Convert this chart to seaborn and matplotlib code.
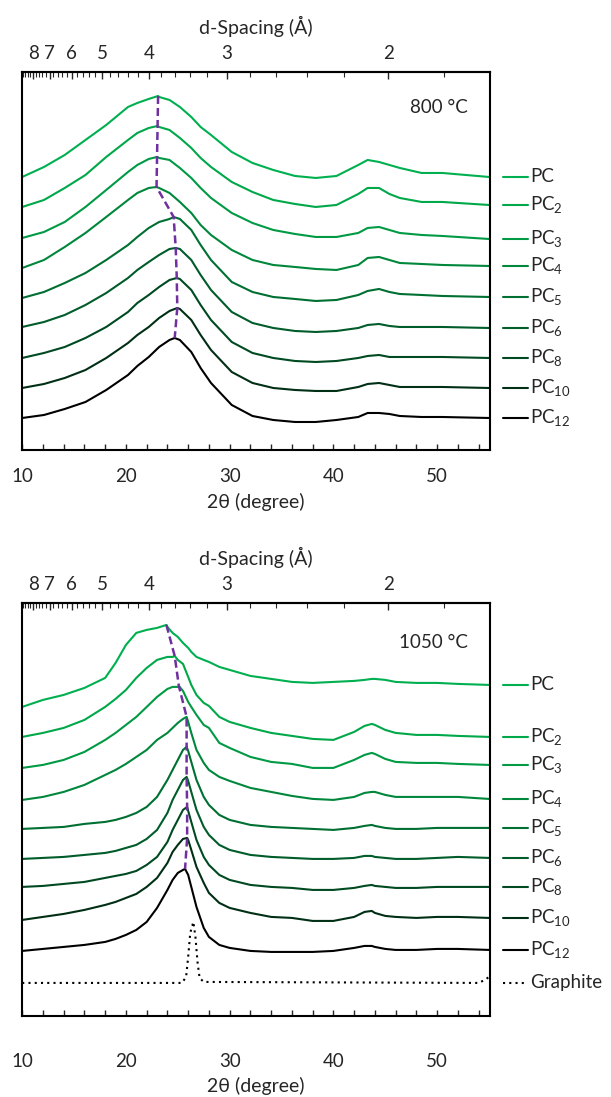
import numpy as np
import pandas as pd
import seaborn as sns
import matplotlib.pyplot as plt
import matplotlib.transforms as mtransforms
from matplotlib.ticker import FixedLocator, MultipleLocator

# XRD patterns of the PC series, stacked (a.u.)
# Cu K-alpha, used only for the d-spacing axis on top
WAVELENGTH = 1.5406

samples = ['PC', 'PC2', 'PC3', 'PC4', 'PC5', 'PC6', 'PC8', 'PC10', 'PC12']
sample_labels = ['PC', 'PC$_2$', 'PC$_3$', 'PC$_4$', 'PC$_5$', 'PC$_6$',
                 'PC$_8$', 'PC$_{10}$', 'PC$_{12}$']
sample_colors = ['#00B050', '#00A84A', '#009A44', '#00873B', '#006F32',
                 '#005C2A', '#004A22', '#002F15', '#000000']

# ---- 800 C ----
two_theta_800 = [10.0, 12.1, 14.1, 16.1, 18.1, 20.2, 21.1, 22.2, 23.2, 24.2,
                 25.2, 26.3, 27.2, 28.2, 30.2, 32.2, 34.2, 36.3, 38.3, 40.3,
                 42.4, 43.3, 44.4, 45.4, 46.4, 48.5, 50.5, 55.0]
pc_800 = [273, 283, 295, 310, 325, 343, 347, 351, 353, 350, 343, 333, 323, 315,
          298, 287, 280, 274, 272, 274, 285, 290, 288, 285, 282, 277, 277, 273]
pc2_800 = [243, 250, 262, 275, 293, 310, 317, 322, 323, 320, 312, 302, 292, 283,
           268, 258, 250, 246, 243, 245, 256, 262, 262, 256, 252, 248, 248, 245]
pc3_800 = [212, 218, 228, 243, 260, 278, 285, 291, 292, 290, 282, 272, 262, 252,
           237, 227, 220, 216, 213, 213, 217, 222, 223, 220, 217, 215, 214, 211]
pc4_800 = [182, 190, 203, 217, 233, 250, 257, 262, 262, 257, 248, 237, 225, 215,
           200, 190, 185, 183, 181, 180, 185, 192, 193, 190, 187, 186, 185, 184]
pc5_800 = [152, 158, 167, 177, 190, 205, 213, 222, 228, 231, 231, 220, 205, 190,
           168, 158, 153, 151, 149, 150, 155, 159, 161, 158, 156, 155, 154, 153]
pc6_800 = [123, 128, 135, 145, 157, 172, 180, 188, 195, 201, 201, 190, 175, 160,
           138, 127, 122, 119, 118, 119, 122, 125, 126, 124, 123, 123, 123, 122]
pc8_800 = [92, 97, 103, 112, 123, 138, 147, 155, 163, 170, 171, 160, 145, 130,
           108, 97, 92, 89, 88, 89, 92, 94, 95, 93, 93, 93, 93, 92]
pc10_800 = [62, 66, 72, 80, 92, 107, 115, 123, 132, 139, 141, 130, 115, 100,
            78, 67, 62, 60, 59, 59, 63, 66, 67, 65, 63, 63, 63, 62]
pc12_800 = [32, 35, 41, 48, 60, 75, 84, 93, 103, 110, 110, 98, 82, 67,
            45, 34, 30, 28, 28, 30, 33, 37, 37, 36, 34, 33, 33, 32]
# (002) peak maxima
peak_pos_800 = [23.1, 23.05, 23.0, 22.95, 24.6, 24.8, 24.9, 24.95, 24.7]
peak_int_800 = [354, 324, 293, 263, 233, 202, 172, 142, 112]

# ---- 1050 C ----
two_theta_1050 = [10, 12, 14, 16, 18, 19, 20, 21, 22, 23, 24, 24.5, 25, 25.5,
                  26, 26.3, 26.8, 27.5, 28, 29, 30, 32, 34, 36, 38, 40, 42, 43,
                  43.7, 44, 45, 46, 48, 50, 52, 55]
pc_1050 = [310, 317, 322, 329, 339, 354, 372, 384, 387, 389, 390, 384, 380, 374,
           369, 365, 360, 357, 355, 350, 347, 341, 338, 335, 334, 335, 336, 337,
           338, 338, 337, 335, 334, 334, 333, 332]
pc2_1050 = [280, 284, 289, 297, 310, 318, 327, 339, 349, 357, 360, 360, 357, 353,
            340, 332, 322, 314, 311, 300, 295, 289, 284, 281, 278, 277, 285, 291,
            293, 292, 287, 284, 282, 282, 281, 280]
pc3_1050 = [249, 252, 257, 265, 277, 284, 292, 300, 310, 320, 328, 330, 330, 326,
            315, 310, 302, 292, 289, 274, 269, 260, 255, 253, 249, 249, 257, 262,
            264, 263, 258, 255, 254, 254, 253, 252]
pc4_1050 = [217, 220, 225, 232, 242, 247, 253, 260, 267, 277, 284, 289, 294, 298,
            295, 284, 267, 254, 247, 240, 236, 229, 225, 221, 218, 217, 220, 224,
            225, 225, 222, 220, 220, 220, 220, 218]
pc5_1050 = [188, 189, 190, 193, 195, 197, 200, 204, 210, 220, 237, 247, 257, 267,
            266, 255, 237, 220, 212, 202, 197, 192, 190, 189, 188, 187, 189, 191,
            192, 191, 189, 188, 188, 189, 189, 189]
pc6_1050 = [158, 159, 160, 162, 164, 166, 169, 172, 178, 187, 204, 217, 227, 237,
            236, 225, 207, 190, 182, 172, 167, 162, 160, 159, 158, 158, 159, 161,
            161, 160, 159, 158, 158, 159, 160, 159]
pc8_1050 = [130, 131, 133, 135, 139, 141, 143, 146, 152, 160, 175, 187, 197, 207,
            206, 195, 177, 160, 152, 142, 137, 132, 130, 129, 127, 127, 129, 131,
            132, 131, 130, 129, 129, 130, 130, 130]
pc10_1050 = [97, 100, 103, 107, 112, 115, 119, 123, 130, 139, 154, 165, 172, 178,
             177, 167, 150, 134, 124, 114, 109, 104, 100, 99, 96, 96, 100, 105,
             106, 104, 101, 100, 99, 100, 100, 99]
pc12_1050 = [66, 68, 70, 72, 75, 78, 82, 87, 95, 109, 127, 137, 144, 147,
             142, 130, 110, 89, 80, 72, 69, 66, 65, 65, 65, 66, 69, 71,
             71, 70, 68, 67, 67, 68, 68, 67]
peak_pos_1050 = [23.9, 24.7, 25.1, 25.85, 25.85, 25.85, 25.9, 25.9, 25.7]
peak_int_1050 = [392, 361, 331, 300, 270, 240, 210, 179, 148]

graphite_x = [10, 25.4, 25.8, 26.0, 26.2, 26.5, 26.7, 26.9, 27.1, 27.5, 54.0, 54.6, 55.0]
graphite_y = [34, 34, 40, 60, 84, 95, 80, 55, 39, 35, 34, 37, 40]

curves_800 = [pc_800, pc2_800, pc3_800, pc4_800, pc5_800, pc6_800, pc8_800, pc10_800, pc12_800]
curves_1050 = [pc_1050, pc2_1050, pc3_1050, pc4_1050, pc5_1050, pc6_1050, pc8_1050,
               pc10_1050, pc12_1050]


def build_frame(grid, curves, peak_pos, peak_int):
    parts = []
    for name, vals, px, py in zip(samples, curves, peak_pos, peak_int):
        parts.append(pd.DataFrame({'two_theta': list(grid) + [px],
                                   'intensity': list(vals) + [py],
                                   'sample': name}))
    return pd.concat(parts, ignore_index=True)


def tt_to_d(tt):
    tt = np.clip(np.asarray(tt, dtype=float), 1.0, 179.0)
    return WAVELENGTH / (2 * np.sin(np.radians(tt / 2)))


def d_to_tt(d):
    d = np.clip(np.asarray(d, dtype=float), WAVELENGTH / 2 + 1e-6, None)
    return 2 * np.degrees(np.arcsin(WAVELENGTH / (2 * d)))


sns.set_style('ticks')
plt.rcParams['font.family'] = ['Lato', 'DejaVu Sans']
plt.rcParams['mathtext.default'] = 'regular'
plt.rcParams['axes.linewidth'] = 1.5

fig = plt.figure(figsize=(6.11, 10.97), dpi=100)
ax1 = fig.add_axes([0.0355, 0.5898, 0.7665, 0.3446])
ax2 = fig.add_axes([0.0355, 0.0739, 0.7665, 0.3765])


def draw_panel(ax, grid, curves, peak_pos, peak_int, ylim, tick_pad, xlabel_pad, temp):
    df = build_frame(grid, curves, peak_pos, peak_int)
    sns.lineplot(data=df, x='two_theta', y='intensity', hue='sample',
                 hue_order=samples, palette=sample_colors, estimator=None,
                 sort=True, linewidth=1.5, legend=False, ax=ax)
    # dashed guide through the (002) maxima
    sns.lineplot(x=peak_pos, y=peak_int, sort=False, estimator=None,
                 color='#7030A0', linewidth=1.8, linestyle=(0, (3.2, 1.6)),
                 zorder=5, ax=ax)

    ax.set_xlim(9.95, 55.1)
    ax.set_ylim(*ylim)
    ax.set_yticks([])
    ax.set_ylabel('')
    ax.xaxis.set_major_locator(MultipleLocator(10))
    ax.xaxis.set_minor_locator(MultipleLocator(2))
    ax.tick_params(axis='x', which='both', direction='in', length=4, width=1,
                   labelsize=13.5, pad=tick_pad, top=False)
    ax.set_xlabel('2θ (degree)', fontsize=14, labelpad=xlabel_pad)
    for sp in ax.spines.values():
        sp.set_visible(True)
        sp.set_linewidth(1.5)
        sp.set_color('black')

    top = ax.secondary_xaxis('top', functions=(tt_to_d, d_to_tt))
    top.xaxis.set_major_locator(FixedLocator([2, 3, 4, 5, 6, 7, 8]))
    top.xaxis.set_minor_locator(FixedLocator(np.round(np.arange(1.8, 8.81, 0.2), 1)))
    top.tick_params(which='major', direction='in', length=5, width=1,
                    labelsize=13.5, pad=7)
    top.tick_params(which='minor', direction='in', length=3.5, width=0.8)
    top.spines['top'].set_linewidth(1.5)
    top.set_xlabel('d-Spacing (Å)', fontsize=14, labelpad=8)

    ax.text(0.953, 0.905, temp, transform=ax.transAxes, ha='right',
            va='center', fontsize=13.5)

    # labels at the right end of each pattern
    trans = mtransforms.blended_transform_factory(ax.transAxes, ax.transData)
    for vals, lab, col in zip(curves, sample_labels, sample_colors):
        ax.plot([1.028, 1.081], [vals[-1], vals[-1]], transform=trans,
                clip_on=False, color=col, lw=1.5)
        ax.text(1.086, vals[-1], lab, transform=trans, ha='left', va='center',
                fontsize=13.5)
    return trans


draw_panel(ax1, two_theta_800, curves_800, peak_pos_800, peak_int_800,
           (0, 378), 13, 6, '800 °C')
trans2 = draw_panel(ax2, two_theta_1050, curves_1050, peak_pos_1050, peak_int_1050,
                    (1, 414), 27, 5, '1050 °C')

sns.lineplot(x=graphite_x, y=graphite_y, sort=False, estimator=None, color='black',
             linewidth=1.5, linestyle=(0, (1, 2)), ax=ax2)
ax2.plot([1.028, 1.081], [graphite_y[0], graphite_y[0]], transform=trans2,
         clip_on=False, color='black', lw=1.5, linestyle=(0, (1, 2)))
ax2.text(1.086, graphite_y[0], 'Graphite', transform=trans2, ha='left',
         va='center', fontsize=13.5)

fig.savefig('out.png', dpi=100)
